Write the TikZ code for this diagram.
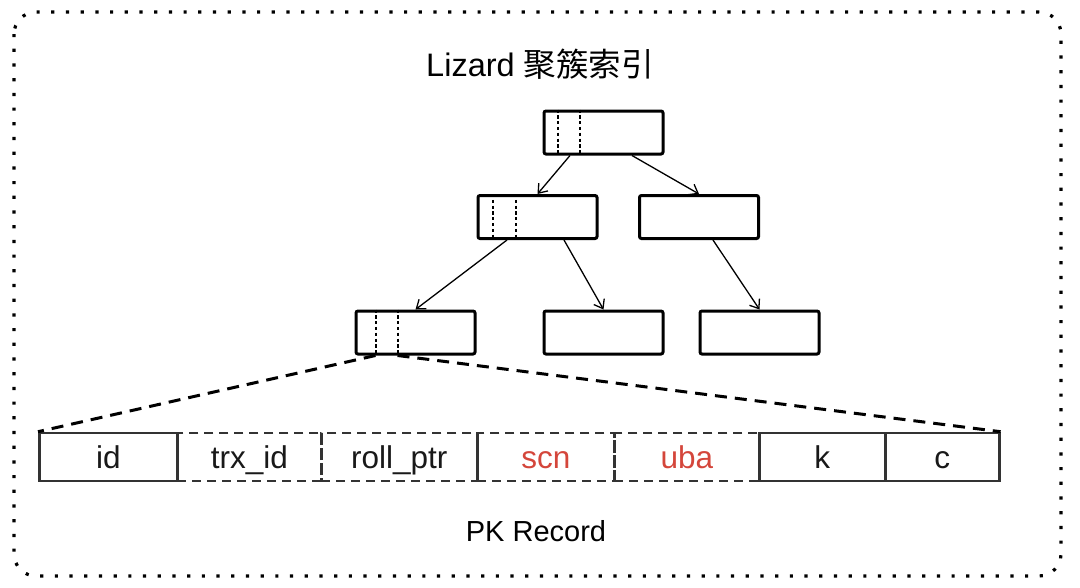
\documentclass[tikz,border=0pt]{standalone}
\usepackage{fontspec}
\setmainfont{Liberation Sans}
\newfontfamily\cjk{Noto Sans CJK SC}
\usetikzlibrary{arrows.meta}
\definecolor{cellline}{HTML}{333333}
\definecolor{redtxt}{HTML}{D4463B}
\tikzset{
  x=1pt, y=-1pt,
  treebox/.style={draw=black, line width=3pt, rounded corners=2pt, inner sep=0pt,
    minimum width=119pt, minimum height=43pt},
  divider/.style={line width=2pt, dash pattern=on 3.2pt off 2.6pt},
  treearrow/.style={line width=1.3pt, -{Straight Barb[length=8pt,width=12pt,line width=1.3pt]}},
  cellbase/.style={line width=2.6pt, draw=cellline, inner sep=0pt, minimum height=48pt,
    anchor=west, font=\fontsize{31.5}{36}\selectfont, text=black!90,
    text height=23pt, text depth=0pt},
  solidcell/.style={cellbase},
  dashcell/.style={cellbase, dash pattern=on 9pt off 6pt},
  expand/.style={line width=3pt, dash pattern=on 12pt off 8pt},
}
\begin{document}
\begin{tikzpicture}
\useasboundingbox (0,0) rectangle (1080,587);
% outer dotted border
\draw[line width=3.2pt, dash pattern=on 3.2pt off 11.5pt, rounded corners=22pt]
  (14,12) rectangle (1061,576);
% title
\node (title) at (540,64) {\fontsize{32.5}{38}\selectfont Lizard {\cjk 聚簇索引}};
% tree nodes
\node[treebox] (top)  at (603.5,132.5) {};
\node[treebox] (midL) at (537.5,217) {};
\node[treebox] (midR) at (699,217) {};
\node[treebox] (botL) at (415.5,332.5) {};
\node[treebox] (botM) at (603.5,332.5) {};
\node[treebox] (botR) at (759.5,332.5) {};
% dividers
\draw[divider] ([xshift=15pt]top.north west) -- ([xshift=15pt]top.south west);
\draw[divider] ([xshift=37pt]top.north west) -- ([xshift=37pt]top.south west);
\draw[divider] ([xshift=16pt]midL.north west) -- ([xshift=16pt]midL.south west);
\draw[divider] ([xshift=39pt]midL.north west) -- ([xshift=39pt]midL.south west);
\draw[divider] ([xshift=21pt]botL.north west) -- ([xshift=21pt]botL.south west);
\draw[divider] ([xshift=43pt]botL.north west) -- ([xshift=43pt]botL.south west);
% arrows
\draw[treearrow] ([xshift=-33.5pt]top.south) -- (midL.north);
\draw[treearrow] ([xshift=28.5pt]top.south) -- (midR.north);
\draw[treearrow] ([xshift=-30.5pt]midL.south) -- (botL.north);
\draw[treearrow] ([xshift=26.5pt]midL.south) -- (botM.north);
\draw[treearrow] ([xshift=14pt]midR.south) -- (botR.north);
% record cells (dashed first, solid on top)
\node[dashcell, minimum width=144pt] (trx) at (176,457) {trx\_id};
\node[dashcell, minimum width=156pt] (roll) at (320,457) {roll\_ptr};
\node[dashcell, minimum width=137pt, text=redtxt] (scn) at (476,457) {scn};
\node[dashcell, minimum width=145pt, text=redtxt] (uba) at (613,457) {uba};
\node[solidcell, minimum width=138pt] (id) at (38,457) {id};
\node[solidcell, minimum width=126pt] (k) at (758,457) {k};
\node[solidcell, minimum width=114pt] (c) at (884,457) {c};
% expansion lines
\draw[expand] ([xshift=21pt]botL.south west) -- (id.north west);
\draw[expand] ([xshift=43pt]botL.south west) -- (c.north east);
% caption
\node (cap) at (536,531) {\fontsize{29}{34}\selectfont PK Record};
\end{tikzpicture}
\end{document}
